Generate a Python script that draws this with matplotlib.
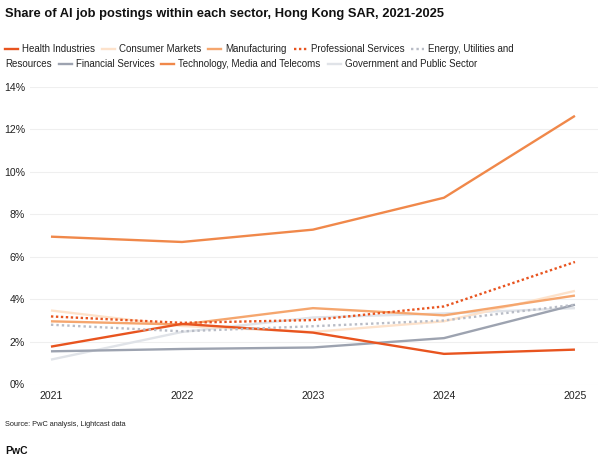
import matplotlib
matplotlib.use("Agg")
import matplotlib.pyplot as plt
from matplotlib.lines import Line2D

plt.rcParams['font.family'] = ['Liberation Sans', 'DejaVu Sans']

years = [2021, 2022, 2023, 2024, 2025]
sectors = ["Health Industries", "Consumer Markets", "Manufacturing", "Professional Services",
           "Energy, Utilities and Resources", "Financial Services",
           "Technology, Media and Telecoms", "Government and Public Sector"]
health = [1.78, 2.85, 2.44, 1.44, 1.64]
consumer = [3.48, 2.75, 2.47, 2.97, 4.40]
manufacturing = [2.97, 2.82, 3.59, 3.25, 4.18]
professional = [3.20, 2.90, 3.03, 3.67, 5.76]
energy = [2.81, 2.50, 2.74, 3.01, 3.75]
financial = [1.56, 1.67, 1.74, 2.18, 3.75]
tech = [6.95, 6.70, 7.28, 8.78, 12.63]
government = [1.17, 2.47, 3.15, 3.34, 3.59]
yticks = [0, 2, 4, 6, 8, 10, 12, 14]

series = [health, consumer, manufacturing, professional, energy, financial, tech, government]
colors = ["#e8541f", "#fde2cb", "#f5a66e", "#e8541f", "#b8bcc6", "#9da3b0", "#f0884a", "#e0e3e8"]
styles = ["-", "-", "-", (0, (1, 1.1)), (0, (1, 1.3)), "-", "-", "-"]
zorders = [4, 2, 3, 6, 5, 3, 4, 1]

W, H = 600, 462
fig = plt.figure(figsize=(6, 4.62), dpi=100)
ax = fig.add_axes([30 / W, 1 - 384.5 / H, 568 / W, (384.5 - 86.7) / H])

for vals, c, ls, z in zip(series, colors, styles, zorders):
    ax.plot(years, vals, color=c, lw=1.7, linestyle=ls, zorder=z, solid_capstyle='butt')

ax.set_xlim(2020.840, 2025.176)
ax.set_ylim(0, 14)
ax.set_yticks(yticks)
ax.set_yticklabels([f"{v}%" for v in yticks])
ax.set_xticks(years)
ax.set_xticklabels([str(y) for y in years])
for s in ax.spines.values():
    s.set_visible(False)
ax.grid(axis='y', color='#efefef', lw=0.8)
ax.set_axisbelow(True)
ax.tick_params(axis='both', length=0, labelsize=7.6, colors='#222222')
ax.tick_params(axis='y', pad=3.5)
ax.tick_params(axis='x', pad=5)

fig.text(5 / W, 1 - 14 / H, "Share of AI job postings within each sector, Hong Kong SAR, 2021-2025",
         fontsize=9.3, fontweight='bold', va='center', ha='left', color='#111111')

# flowing legend, laid out from measured text widths
renderer = fig.canvas.get_renderer()
LEG_FS = 7.0
HANDLE, TGAP, EGAP = 13, 4, 7
row_y = [49, 64]
rows = [
    [(0, "Health Industries"), (1, "Consumer Markets"), (2, "Manufacturing"),
     (3, "Professional Services"), (4, "Energy, Utilities and")],
    [(None, "Resources"), (5, "Financial Services"),
     (6, "Technology, Media and Telecoms"), (7, "Government and Public Sector")],
]
for ry, row in zip(row_y, rows):
    x = 5
    yy = 1 - ry / H
    for idx, label in row:
        if idx is not None:
            fig.add_artist(Line2D([x / W, (x + HANDLE) / W], [yy, yy], color=colors[idx],
                                  lw=1.7, linestyle=styles[idx], transform=fig.transFigure))
            x += HANDLE + TGAP
        t = fig.text(x / W, yy, label, fontsize=LEG_FS, va='center', ha='left', color='#222222')
        x += t.get_window_extent(renderer).width + EGAP

fig.text(5 / W, 1 - 424 / H, "Source: PwC analysis, Lightcast data", fontsize=5.3,
         va='center', ha='left', color='#222222')
fig.text(5 / W, 1 - 451 / H, "PwC", fontsize=7.5, fontweight='bold',
         va='center', ha='left', color='#111111')

fig.savefig("out.png", dpi=100)
